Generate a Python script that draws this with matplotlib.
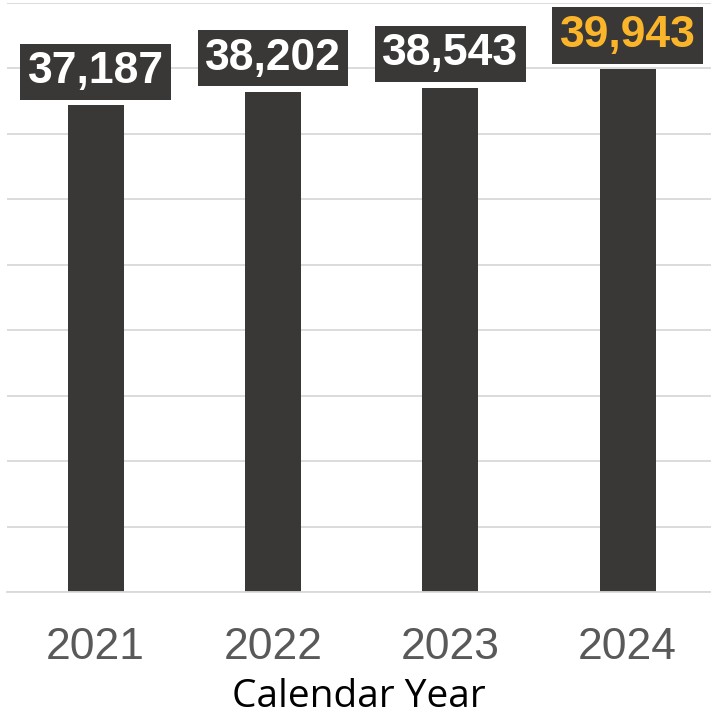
import matplotlib
matplotlib.use('Agg')
from matplotlib import pyplot as plt
from matplotlib import font_manager

years = ['2021', '2022', '2023', '2024']
values = [37187, 38202, 38543, 39943]
label_colors = ['white', 'white', 'white', '#FBB52B']

names = {f.name for f in font_manager.fontManager.ttflist}
narrow = 'Liberation Sans Narrow' if 'Liberation Sans Narrow' in names else 'Liberation Sans'

fig = plt.figure(figsize=(7.11, 7.20), dpi=100)
ax = fig.add_axes([7/711, 128/720, 704/711, 589/720])

bar_color = '#3A3836'
x = range(len(years))
ax.bar(x, values, width=0.316, color=bar_color, zorder=2)

ax.set_ylim(0, 45000)
ax.set_xlim(-0.5, 3.47)
ax.set_yticks(range(0, 45001, 5000))
ax.yaxis.grid(True, color='#D9D9D9', linewidth=1.3, zorder=0)
ax.tick_params(axis='y', left=False, labelleft=False)
ax.tick_params(axis='x', bottom=False, pad=22)
for s in ['top', 'right', 'left']:
    ax.spines[s].set_visible(False)
ax.spines['bottom'].set_color('#D9D9D9')
ax.spines['bottom'].set_linewidth(1.3)

ax.set_xticks(list(x))
ax.set_xticklabels(years, fontsize=32, color='#595959', family=narrow)
ax.set_xlabel('Calendar Year', fontsize=28, family='Open Sans', color='black', labelpad=7)

for i, v in enumerate(values):
    ax.annotate(f'{v:,}', (i, v), xytext=(0, 9.5), textcoords='offset points',
                ha='center', va='bottom', fontsize=32, fontweight='bold',
                family='Liberation Sans', color=label_colors[i], zorder=3,
                bbox=dict(boxstyle='square,pad=0.17', fc=bar_color, ec='none'))

fig.savefig('out.png', dpi=100)
